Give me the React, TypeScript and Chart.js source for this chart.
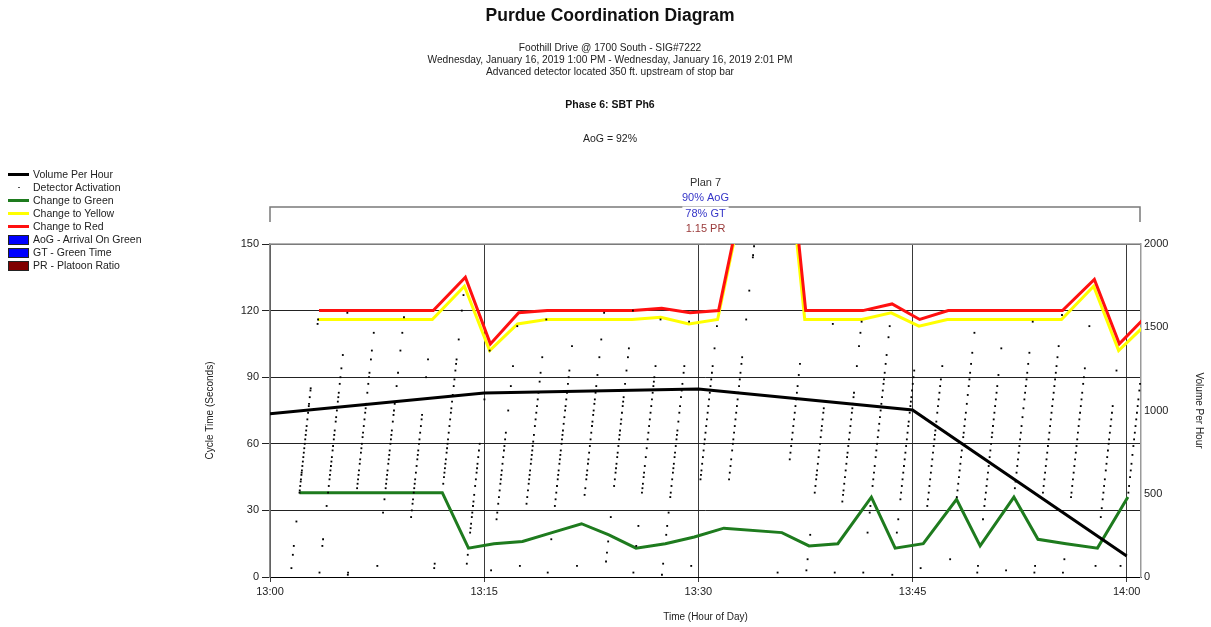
import React, { useEffect, useRef } from 'react';
import { Chart, registerables } from 'chart.js';

Chart.register(...registerables);

const FONT = '"Liberation Sans", Arial, Helvetica, sans-serif';

// ---- axis ticks ----
const xTickMinutes = [0, 15, 30, 45, 60];
const xTickLabels = ['13:00', '13:15', '13:30', '13:45', '14:00'];
const cycleTimeTicks = [0, 30, 60, 90, 120, 150];
const volumeTicks = [0, 500, 1000, 1500, 2000];

// ---- signal cycles (seconds after 13:00) ----
const cycleStartSec = [86, 206, 326, 446, 566, 686, 821, 926, 1045, 1165, 1285, 1405, 1525, 1646, 1765, 1885, 2131, 2251, 2371, 2491, 2614, 2730, 2850, 2970, 3090, 3210, 3330, 3464, 3569];
const greenSec = [38, 38, 38, 38, 38, 38, 13, 15, 16, 20, 24, 19, 13, 15, 18, 22, 20, 14, 15, 36, 13, 15, 35, 14, 36, 17, 15, 13, 36];
const yellowSec = [116, 116, 116, 116, 116, 131, 102, 114, 116, 116, 116, 116, 117, 114, 116, 242, 116, 116, 116, 119, 113, 116, 116, 116, 116, 116, 131, 102, 114];
const redSec = [120, 120, 120, 120, 120, 135, 105, 119, 120, 120, 120, 120, 121, 119, 120, 246, 120, 120, 120, 123, 116, 120, 120, 120, 120, 120, 134, 105, 118];

// ---- detector activations: seconds into each cycle ----
const arrivalsSec: number[][] = [
  [4, 10, 14, 25, 38, 39, 41, 43, 44, 46, 47, 48, 50, 52, 54, 56, 58, 60, 62, 64, 66, 68, 71, 74, 77, 78, 81, 84, 85, 114, 116],
  [2, 14, 17, 32, 38, 41, 44, 46, 48, 50, 52, 54, 57, 59, 62, 64, 66, 70, 72, 75, 79, 81, 83, 87, 90, 94, 100, 119],
  [1, 2, 40, 42, 44, 46, 48, 51, 53, 56, 58, 60, 63, 65, 68, 71, 74, 76, 78, 83, 87, 90, 92, 98, 102, 110],
  [5, 29, 35, 40, 42, 44, 46, 48, 51, 53, 55, 57, 60, 62, 64, 66, 70, 73, 75, 78, 86, 92, 102, 110, 117],
  [27, 30, 33, 35, 38, 40, 42, 44, 47, 50, 53, 55, 57, 60, 62, 65, 68, 71, 73, 90, 98],
  [4, 6, 42, 45, 47, 49, 51, 53, 56, 58, 60, 62, 65, 68, 71, 74, 76, 79, 82, 86, 89, 93, 96, 98, 107, 120, 127],
  [6, 10, 20, 22, 24, 27, 29, 32, 34, 37, 41, 44, 47, 49, 51, 54, 57, 60, 80, 102],
  [3, 26, 29, 33, 36, 39, 42, 44, 46, 48, 51, 54, 57, 59, 62, 65, 75, 86, 95, 113],
  [5, 33, 36, 39, 42, 44, 46, 48, 51, 53, 55, 57, 59, 61, 64, 68, 71, 74, 77, 80, 83, 88, 92, 99, 116],
  [2, 17, 32, 35, 38, 41, 44, 46, 48, 51, 53, 55, 57, 60, 62, 64, 66, 69, 72, 75, 77, 80, 83, 87, 90, 93, 104],
  [5, 37, 40, 44, 46, 48, 51, 53, 56, 59, 62, 65, 68, 70, 73, 75, 78, 80, 83, 86, 91, 99, 107, 119],
  [7, 11, 16, 27, 41, 44, 47, 49, 51, 54, 56, 59, 62, 64, 66, 69, 71, 74, 77, 79, 81, 87, 93, 99, 103, 120],
  [2, 14, 23, 38, 40, 42, 45, 47, 50, 54, 58, 62, 65, 68, 71, 74, 77, 80, 83, 86, 88, 90, 95, 116],
  [1, 6, 19, 23, 29, 36, 38, 41, 44, 47, 49, 51, 54, 56, 59, 62, 64, 66, 70, 74, 77, 81, 84, 87, 92, 95, 115],
  [5, 44, 46, 48, 51, 54, 57, 60, 62, 65, 68, 71, 74, 77, 80, 83, 86, 89, 92, 95, 103, 113],
  [44, 47, 50, 53, 57, 60, 62, 65, 68, 71, 74, 77, 80, 83, 86, 89, 92, 96, 99, 116, 129, 144, 145, 149],
  [2, 53, 56, 59, 62, 65, 68, 71, 74, 77, 80, 83, 86, 91, 96],
  [3, 8, 19, 38, 41, 44, 46, 48, 51, 54, 57, 60, 63, 66, 68, 71, 74, 76, 114],
  [2, 34, 37, 39, 42, 45, 48, 51, 54, 56, 59, 62, 65, 68, 71, 74, 76, 78, 81, 83, 95, 104, 110, 115],
  [2, 20, 29, 32, 41, 44, 47, 50, 54, 57, 60, 63, 66, 69, 72, 75, 78, 81, 84, 87, 89, 92, 96, 100, 108, 113],
  [1, 20, 26, 35, 38, 41, 44, 47, 50, 53, 56, 59, 62, 65, 68, 70, 74, 77, 79, 81, 84, 87, 90, 93],
  [4, 32, 35, 38, 41, 44, 47, 50, 53, 56, 59, 62, 64, 66, 70, 74, 77, 80, 83, 86, 89, 95],
  [8, 36, 39, 42, 45, 48, 51, 54, 57, 60, 63, 65, 68, 71, 74, 78, 82, 86, 89, 92, 96, 101, 110],
  [2, 5, 26, 32, 35, 38, 41, 44, 47, 50, 54, 57, 60, 63, 65, 68, 71, 74, 77, 80, 83, 86, 91, 103],
  [3, 40, 43, 47, 50, 53, 56, 59, 62, 65, 68, 72, 76, 80, 83, 86, 89, 92, 96, 101, 115],
  [2, 5, 38, 41, 44, 47, 50, 53, 56, 59, 62, 65, 68, 71, 74, 77, 80, 83, 86, 89, 92, 95, 99, 104, 118],
  [2, 8, 36, 38, 41, 44, 47, 50, 53, 56, 59, 62, 65, 68, 71, 74, 77, 80, 83, 87, 90, 94, 113],
  [5, 27, 31, 35, 38, 41, 44, 48, 51, 54, 57, 60, 62, 65, 68, 71, 74, 77, 93],
  [5, 38, 41, 45, 48, 51, 55, 59, 62, 65, 68, 71, 74, 77, 80, 84, 87],
];

// ---- volume per hour (minutes after 13:00) ----
const volumeMinutes = [0, 15, 30, 45, 60];
const volumeValues = [980, 1105, 1129, 1003, 126];

// ---- text ----
const titleText = 'Purdue Coordination Diagram';
const subtitleLines = [
  'Foothill Drive @ 1700 South - SIG#7222',
  'Wednesday, January 16, 2019 1:00 PM - Wednesday, January 16, 2019 2:01 PM',
  'Advanced detector located 350 ft. upstream of stop bar',
];
const phaseText = 'Phase 6: SBT Ph6';
const aogText = 'AoG = 92%';
const planLines = ['Plan 7', '90% AoG', '78% GT', '1.15 PR'];
const planColors = ['#333333', '#3535c8', '#3535c8', '#9a3a3a'];

const COLOR_GREEN = '#1e7b1e';
const COLOR_YELLOW = '#ffff00';
const COLOR_RED = '#ff1010';

const legendItems = [
  { label: 'Volume Per Hour', kind: 'line', color: '#000000' },
  { label: 'Detector Activation', kind: 'dot', color: '#000000' },
  { label: 'Change to Green', kind: 'line', color: COLOR_GREEN },
  { label: 'Change to Yellow', kind: 'line', color: COLOR_YELLOW },
  { label: 'Change to Red', kind: 'line', color: COLOR_RED },
  { label: 'AoG - Arrival On Green', kind: 'box', color: '#0000ff' },
  { label: 'GT - Green Time', kind: 'box', color: '#0000ff' },
  { label: 'PR - Platoon Ratio', kind: 'box', color: '#800000' },
];

export default function App() {
  const canvasRef = useRef<HTMLCanvasElement>(null);

  useEffect(() => {
    if (!canvasRef.current) return;
    const eventPoints = (vals: number[]) =>
      cycleStartSec.map((s, i) => ({ x: (s + vals[i]) / 60, y: vals[i] }));
    const detector = arrivalsSec.flatMap((list, i) =>
      list.map((a) => ({ x: (cycleStartSec[i] + a) / 60, y: a }))
    );
    const volume = volumeMinutes.map((m, i) => ({ x: m, y: volumeValues[i] }));

    const framePlugin = {
      id: 'frameAndPlan',
      beforeDatasetsDraw(chart: any) {
        const { ctx, chartArea } = chart;
        ctx.save();
        ctx.strokeStyle = '#9a9a9a';
        ctx.lineWidth = 1.5;
        ctx.beginPath();
        ctx.moveTo(chartArea.left, chartArea.top);
        ctx.lineTo(chartArea.right, chartArea.top);
        ctx.stroke();
        ctx.restore();
      },
      afterDraw(chart: any) {
        const { ctx, chartArea } = chart;
        const left = chartArea.left;
        const right = chartArea.right - 1;
        const yLine = 207;
        const yTick = 222;
        ctx.save();
        ctx.strokeStyle = '#7a7a7a';
        ctx.lineWidth = 1.5;
        ctx.beginPath();
        ctx.moveTo(left, yTick);
        ctx.lineTo(left, yLine);
        ctx.lineTo(right, yLine);
        ctx.lineTo(right, yTick);
        ctx.stroke();
        const cx = (chartArea.left + chartArea.right) / 2;
        ctx.font = `11px ${FONT}`;
        ctx.textAlign = 'center';
        ctx.textBaseline = 'middle';
        planLines.forEach((t, i) => {
          const y = 183 + i * 15.3;
          const w = ctx.measureText(t).width;
          ctx.fillStyle = '#ffffff';
          ctx.fillRect(cx - w / 2 - 3, y - 7, w + 6, 14);
          ctx.fillStyle = planColors[i];
          ctx.fillText(t, cx, y);
        });
        ctx.restore();
      },
    };

    const tickFont = { family: FONT, size: 11 };
    const titleFont = { family: FONT, size: 10 };

    const chart = new Chart(canvasRef.current, {
      type: 'line',
      data: {
        datasets: [
          {
            label: 'Detector Activation',
            data: detector,
            showLine: false,
            pointRadius: 1.3,
            pointStyle: 'rect',
            pointBackgroundColor: '#000000',
            pointBorderWidth: 0,
            borderColor: '#000000',
            yAxisID: 'y',
            order: 0,
          },
          {
            label: 'Volume Per Hour',
            data: volume,
            borderColor: '#000000',
            borderWidth: 3,
            pointRadius: 0,
            yAxisID: 'y2',
            order: 1,
          },
          {
            label: 'Change to Red',
            data: eventPoints(redSec),
            borderColor: COLOR_RED,
            borderWidth: 3,
            pointRadius: 0,
            yAxisID: 'y',
            order: 2,
          },
          {
            label: 'Change to Yellow',
            data: eventPoints(yellowSec),
            borderColor: COLOR_YELLOW,
            borderWidth: 3,
            pointRadius: 0,
            yAxisID: 'y',
            order: 3,
          },
          {
            label: 'Change to Green',
            data: eventPoints(greenSec),
            borderColor: COLOR_GREEN,
            borderWidth: 3,
            pointRadius: 0,
            yAxisID: 'y',
            order: 4,
          },
        ],
      } as any,
      options: {
        animation: false,
        responsive: false,
        maintainAspectRatio: false,
        layout: { padding: { left: 200, right: 2, top: 244, bottom: 0 } },
        elements: { line: { tension: 0 } },
        plugins: {
          legend: { display: false },
          tooltip: { enabled: false },
          title: { display: false },
        },
        scales: {
          x: {
            type: 'linear',
            min: 0,
            max: 61,
            afterBuildTicks: (s: any) => {
              s.ticks = xTickMinutes.map((v) => ({ value: v }));
            },
            afterFit: (s: any) => {
              s.height = 50;
            },
            ticks: {
              callback: (_v: any, i: number) => xTickLabels[i],
              font: tickFont,
              color: '#222222',
              padding: 3,
              maxRotation: 0,
              autoSkip: false,
            },
            grid: { color: '#3a3a3a', lineWidth: 1, drawTicks: true, tickLength: 5 },
            border: { color: '#000000', width: 1 },
            title: {
              display: true,
              text: 'Time (Hour of Day)',
              font: titleFont,
              color: '#222222',
              padding: { top: 4, bottom: 4 },
            },
          },
          y: {
            type: 'linear',
            position: 'left',
            min: 0,
            max: 150,
            afterBuildTicks: (s: any) => {
              s.ticks = cycleTimeTicks.map((v) => ({ value: v }));
            },
            afterFit: (s: any) => {
              s.width = 70;
            },
            ticks: { font: tickFont, color: '#222222', padding: 3, callback: (v: any) => String(v) },
            grid: { color: '#222222', lineWidth: 1, drawTicks: true, tickLength: 8 },
            border: { color: '#8a8a8a', width: 1.5 },
            title: {
              display: true,
              text: 'Cycle Time (Seconds)',
              font: titleFont,
              color: '#222222',
              padding: { top: 4, bottom: 4 },
            },
          },
          y2: {
            type: 'linear',
            position: 'right',
            min: 0,
            max: 2000,
            afterBuildTicks: (s: any) => {
              s.ticks = volumeTicks.map((v) => ({ value: v }));
            },
            afterFit: (s: any) => {
              s.width = 68;
            },
            ticks: { font: tickFont, color: '#222222', padding: 3, callback: (v: any) => String(v) },
            grid: { display: false, drawOnChartArea: false, drawTicks: false },
            border: { color: '#9a9a9a', width: 1.5 },
            title: {
              display: true,
              text: 'Volume Per Hour',
              font: titleFont,
              color: '#222222',
              padding: { top: 4, bottom: 4 },
            },
          },
        },
      } as any,
      plugins: [framePlugin],
    });

    return () => {
      chart.destroy();
    };
  }, []);

  const centerBlock = (top: number, extra: React.CSSProperties): React.CSSProperties => ({
    position: 'absolute',
    left: 0,
    width: 1220,
    top,
    textAlign: 'center',
    whiteSpace: 'nowrap',
    fontFamily: FONT,
    color: '#222222',
    ...extra,
  });

  return (
    <div
      style={{
        position: 'fixed',
        left: 0,
        top: 0,
        width: 1211,
        height: 627,
        background: '#ffffff',
        overflow: 'hidden',
      }}
    >
      <canvas
        ref={canvasRef}
        width={1211}
        height={627}
        style={{ position: 'absolute', left: 0, top: 0, width: 1211, height: 627 }}
      />
      <div style={centerBlock(5, { fontSize: 17.5, lineHeight: '20px', fontWeight: 'bold', color: '#111' })}>
        {titleText}
      </div>
      <div style={centerBlock(42, { fontSize: 10.2, lineHeight: '12px' })}>
        {subtitleLines.map((l) => (
          <div key={l}>{l}</div>
        ))}
      </div>
      <div style={centerBlock(98, { fontSize: 10.5, lineHeight: '12px', fontWeight: 'bold', color: '#111' })}>
        {phaseText}
      </div>
      <div style={centerBlock(132, { fontSize: 10.5, lineHeight: '12px' })}>{aogText}</div>

      <div style={{ position: 'absolute', left: 8, top: 167.5, fontFamily: FONT, fontSize: 10.5, color: '#222' }}>
        {legendItems.map((it) => (
          <div key={it.label} style={{ position: 'relative', height: 13.1, lineHeight: '13.1px', whiteSpace: 'nowrap' }}>
            {it.kind === 'line' && (
              <span
                style={{ position: 'absolute', left: 0, top: 5, width: 21, height: 3, background: it.color }}
              />
            )}
            {it.kind === 'dot' && (
              <span
                style={{ position: 'absolute', left: 10, top: 6, width: 1.5, height: 1.5, background: '#555' }}
              />
            )}
            {it.kind === 'box' && (
              <span
                style={{
                  position: 'absolute',
                  left: 0,
                  top: 2,
                  width: 19,
                  height: 8,
                  background: it.color,
                  border: '1px solid #222',
                }}
              />
            )}
            <span style={{ position: 'absolute', left: 25, top: 0 }}>{it.label}</span>
          </div>
        ))}
      </div>
    </div>
  );
}
